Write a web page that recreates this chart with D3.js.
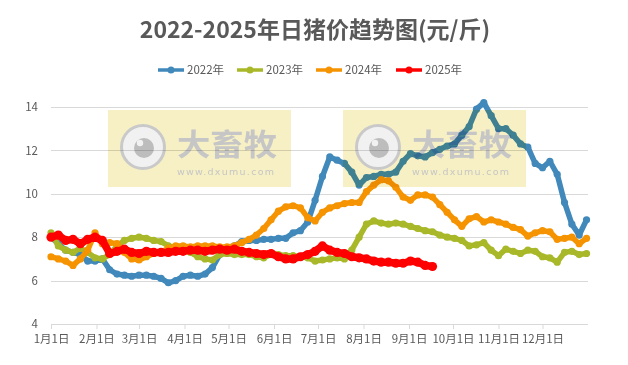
<!DOCTYPE html>
<html><head><meta charset="utf-8">
<script src="https://cdn.jsdelivr.net/npm/d3@7/dist/d3.min.js"></script>
<style>
html,body{margin:0;padding:0;background:#fff;}
#wrap{position:relative;width:628px;height:365px;background:#fff;}
svg{display:block;position:absolute;left:0;top:0;font-family:"Noto Sans CJK SC","Noto Sans",sans-serif;}
#wm{mix-blend-mode:multiply;}
</style></head>
<body><div id="wrap"><svg id="c" width="628" height="365"></svg><svg id="wm" width="628" height="365"></svg></div>
<script>
const title = "2022-2025年日猪价趋势图(元/斤)";
const seriesNames = ["2022年","2023年","2024年","2025年"];
const colors = ["#4189bb","#a8b828","#f59300","#ff0000"];
const yTicks = [4,6,8,10,12,14];
const monthTickDays = [0,31,60,91,121,152,182,213,244,274,305,335];
const monthLabels = ["1月1日","2月1日","3月1日","4月1日","5月1日","6月1日","7月1日","8月1日","9月1日","10月1日","11月1日","12月1日"];
const days = [0,5,10,15,20,25,30,35,40,45,50,55,60,65,70,75,80,85,90,95,100,105,110,115,120,125,130,135,140,145,150,155,160,165,170,175,180,185,190,195,200,205,210,215,220,225,230,235,240,245,250,255,260,265,270,275,280,285,290,295,300,305,310,315,320,325,330,335,340,345,350,355,360,365];
const v2022 = [8.0,7.7,7.4,7.3,7.2,6.9,6.9,7.0,6.5,6.3,6.25,6.2,6.25,6.25,6.2,6.1,5.9,6.0,6.2,6.25,6.2,6.3,6.6,7.2,7.5,7.6,7.8,7.85,7.85,7.9,7.9,7.95,7.95,8.2,8.3,8.7,9.7,10.8,11.7,11.55,11.4,11.0,10.4,10.75,10.8,10.9,10.9,11.0,11.5,11.85,11.75,11.7,11.9,12.05,12.2,12.3,12.7,13.1,13.9,14.2,13.6,13.0,13.0,12.7,12.3,12.15,11.4,11.2,11.5,10.9,9.6,8.6,8.1,8.8];
const v2023 = [8.2,7.6,7.4,7.3,7.5,7.3,7.05,7.0,7.2,7.6,7.85,7.95,8.0,7.95,7.85,7.8,7.6,7.5,7.45,7.3,7.1,7.0,6.95,7.2,7.25,7.2,7.2,7.2,7.1,7.05,7.2,7.2,7.15,7.15,7.1,7.05,6.9,6.95,7.0,7.05,7.0,7.4,8.0,8.6,8.75,8.65,8.6,8.65,8.6,8.5,8.4,8.3,8.25,8.1,8.0,7.95,7.85,7.6,7.65,7.75,7.4,7.15,7.45,7.35,7.25,7.4,7.35,7.1,7.05,6.85,7.3,7.35,7.2,7.25];
const v2024 = [7.1,7.0,6.9,6.7,7.0,7.4,8.2,7.7,7.75,7.7,7.3,7.0,6.95,7.1,7.25,7.3,7.5,7.6,7.6,7.55,7.6,7.6,7.6,7.55,7.55,7.6,7.75,7.9,8.1,8.4,8.8,9.2,9.4,9.45,9.35,8.9,8.75,9.15,9.35,9.45,9.55,9.6,9.6,10.1,10.4,10.65,10.6,10.3,9.85,9.7,9.95,9.95,9.85,9.5,9.15,8.8,8.5,8.85,8.95,8.7,8.8,8.7,8.6,8.45,8.35,8.05,8.2,8.3,8.25,7.9,7.95,8.0,7.7,7.95];
const v2025 = [8.0,8.1,7.85,7.9,7.7,7.9,8.0,7.85,7.25,7.35,7.45,7.3,7.25,7.35,7.3,7.3,7.3,7.35,7.35,7.4,7.4,7.35,7.4,7.45,7.4,7.45,7.35,7.3,7.25,7.2,7.25,7.1,7.0,7.0,7.1,7.2,7.35,7.6,7.4,7.3,7.25,7.1,7.05,7.0,6.9,6.85,6.85,6.8,6.8,6.9,6.85,6.7,6.65];
const allValues = [v2022,v2023,v2024,v2025];

const svg = d3.select("#c");
svg.append("rect").attr("width",628).attr("height",365).attr("fill","#fff");

const x = d3.scaleLinear().domain([0,366]).range([51,588]);
const y = d3.scaleLinear().domain([4,14]).range([324,107]);

// title
svg.append("text").attr("x",315).attr("y",38).attr("text-anchor","middle")
  .attr("font-size",23).attr("font-weight","bold").attr("fill","#595959").text(title);

// legend
const legX = [158,237,316,396];
seriesNames.forEach((n,i)=>{
  const g = svg.append("g").attr("transform",`translate(${legX[i]},70)`);
  g.append("line").attr("x1",0).attr("x2",26).attr("stroke",colors[i]).attr("stroke-width",3.5);
  g.append("circle").attr("cx",13).attr("r",3.5).attr("fill",colors[i]);
  g.append("text").attr("x",29).attr("y",4).attr("font-size",11.5).attr("fill","#595959").text(n);
});

// grid
svg.append("g").selectAll("line").data(yTicks.filter(t=>t>4)).join("line")
  .attr("x1",51).attr("x2",588).attr("y1",d=>Math.round(y(d))+0.5).attr("y2",d=>Math.round(y(d))+0.5)
  .attr("stroke","#d9d9d9").attr("stroke-width",1);

// y axis labels
const yAxis = d3.axisLeft(y).tickValues(yTicks).tickSize(0).tickPadding(0);
const ya = svg.append("g").attr("transform","translate(38,0)").call(yAxis);
ya.select(".domain").remove();
ya.selectAll("text").attr("font-size",11.5).attr("fill","#595959").attr("font-family",'"Noto Sans CJK SC",sans-serif');

// x axis
const xAxis = d3.axisBottom(x).tickValues(monthTickDays).tickFormat((d,i)=>monthLabels[i]).tickSize(5).tickPadding(6).tickSizeOuter(0);
const xa = svg.append("g").attr("transform","translate(0,324)").call(xAxis);
xa.select(".domain").attr("stroke","#d9d9d9").attr("d","M51,0.5H588");
xa.selectAll(".tick line").attr("stroke","#d9d9d9");
xa.selectAll("text").attr("font-size",11.5).attr("fill","#595959").attr("font-family",'"Noto Sans CJK SC",sans-serif');

// series
const line = d3.line().x(d=>x(d[0])).y(d=>y(d[1])).curve(d3.curveLinear);
allValues.forEach((vals,i)=>{
  const pts = vals.map((v,j)=>[days[j],v]);
  const red = i===3;
  svg.append("path").datum(pts).attr("d",line).attr("fill","none")
    .attr("stroke",colors[i]).attr("stroke-width",red?7.5:5.5).attr("stroke-linejoin","round").attr("stroke-linecap","round");
  svg.append("g").selectAll("circle").data(pts).join("circle")
    .attr("cx",d=>x(d[0])).attr("cy",d=>y(d[1])).attr("r",red?4.6:3.6).attr("fill",colors[i]);
});

// watermarks (multiplied over the chart)
const wm = d3.select("#wm");
[0,235].forEach(dx=>{
  const g = wm.append("g").attr("transform",`translate(${dx},0)`);
  g.append("rect").attr("x",108).attr("y",110).attr("width",183).attr("height",77).attr("fill","#f6f0c4");
  g.append("circle").attr("cx",143).attr("cy",147).attr("r",21.5).attr("fill","#f1f1f1").attr("stroke","#c9c9c9").attr("stroke-width",3);
  g.append("circle").attr("cx",144).attr("cy",148).attr("r",10).attr("fill","#bdbdbd");
  g.append("circle").attr("cx",140).attr("cy",143).attr("r",3.2).attr("fill","#f1f1f1");
  g.append("text").attr("x",177).attr("y",155).attr("font-size",30).attr("font-weight","bold")
    .attr("fill","#c6c6c6").attr("textLength",100).attr("lengthAdjust","spacingAndGlyphs").text("大畜牧");
  g.append("text").attr("x",177).attr("y",175).attr("font-size",9.5)
    .attr("fill","#c6c6c6").attr("textLength",97).attr("lengthAdjust","spacing").attr("font-family","DejaVu Sans, sans-serif").text("www.dxumu.com");
});
</script></body></html>
